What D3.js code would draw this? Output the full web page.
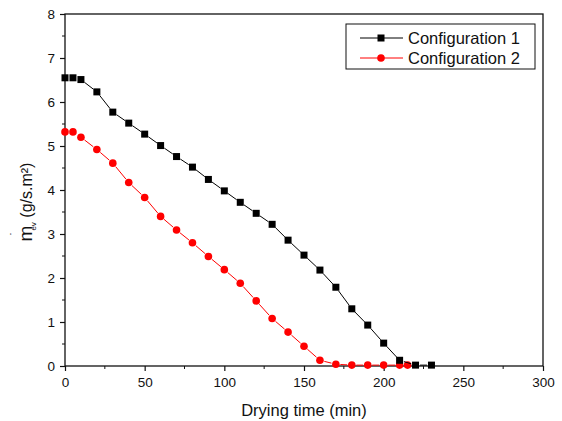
<!DOCTYPE html>
<html>
<head>
<meta charset="utf-8">
<script src="https://cdn.jsdelivr.net/npm/d3@7"></script>
<style>
  body { margin: 0; background: #fff; }
  text { font-family: "Liberation Sans", Arial, sans-serif; fill: #111; }
</style>
</head>
<body>
<script>
const time1 = [0, 5, 10, 20, 30, 40, 50, 60, 70, 80, 90, 100, 110, 120, 130, 140, 150, 160, 170, 180, 190, 200, 210, 220, 230];
const config1 = [6.55, 6.55, 6.51, 6.23, 5.77, 5.52, 5.27, 5.01, 4.76, 4.52, 4.24, 3.98, 3.72, 3.47, 3.22, 2.86, 2.52, 2.18, 1.79, 1.30, 0.93, 0.52, 0.13, 0.02, 0.02];
const time2 = [0, 5, 10, 20, 30, 40, 50, 60, 70, 80, 90, 100, 110, 120, 130, 140, 150, 160, 170, 180, 190, 200, 210, 215];
const config2 = [5.32, 5.32, 5.20, 4.92, 4.61, 4.17, 3.83, 3.40, 3.09, 2.80, 2.49, 2.19, 1.88, 1.48, 1.08, 0.77, 0.45, 0.13, 0.04, 0.02, 0.02, 0.02, 0.02, 0.02];
const xTicks = [0, 50, 100, 150, 200, 250, 300];
const yTicks = [0, 1, 2, 3, 4, 5, 6, 7, 8];
const seriesNames = ["Configuration 1", "Configuration 2"];

const width = 562, height = 421;
const margin = {left: 65, right: 19, top: 14, bottom: 55};

const svg = d3.select("body").append("svg")
    .attr("width", width)
    .attr("height", height);

const x = d3.scaleLinear().domain([0, 300]).range([margin.left, width - margin.right]);
const y = d3.scaleLinear().domain([0, 8]).range([height - margin.bottom, margin.top]);

// frame
svg.append("rect")
    .attr("x", x(0)).attr("y", y(8))
    .attr("width", x(300) - x(0)).attr("height", y(0) - y(8))
    .attr("fill", "none").attr("stroke", "#111").attr("stroke-width", 1.3);

// minor ticks
svg.append("g").selectAll("line")
    .data(d3.range(25, 300, 50))
    .join("line")
    .attr("x1", d => x(d)).attr("x2", d => x(d))
    .attr("y1", y(0)).attr("y2", y(0) + 3)
    .attr("stroke", "#111");
svg.append("g").selectAll("line")
    .data(d3.range(0.5, 8, 1))
    .join("line")
    .attr("y1", d => y(d)).attr("y2", d => y(d))
    .attr("x1", x(0)).attr("x2", x(0) - 3)
    .attr("stroke", "#111");

const xAxis = svg.append("g")
    .attr("transform", "translate(0," + y(0) + ")")
    .call(d3.axisBottom(x).tickValues(xTicks).tickSize(5).tickSizeOuter(0).tickPadding(6));
const yAxis = svg.append("g")
    .attr("transform", "translate(" + x(0) + ",0)")
    .call(d3.axisLeft(y).tickValues(yTicks).tickSize(5).tickSizeOuter(0).tickPadding(5));

[xAxis, yAxis].forEach(a => {
    a.select(".domain").remove();
    a.selectAll(".tick line").attr("stroke", "#111").attr("stroke-width", 1.2);
    a.selectAll(".tick text").attr("font-size", 13.5).attr("fill", "#111")
        .style("font-family", "'Liberation Sans', Arial, sans-serif");
});

// axis titles
svg.append("text")
    .attr("x", (x(0) + x(300)) / 2)
    .attr("y", 416)
    .attr("text-anchor", "middle")
    .attr("font-size", 16.5)
    .text("Drying time (min)");

const yt = svg.append("text")
    .attr("transform", "translate(32,202) rotate(-90)")
    .attr("text-anchor", "middle")
    .attr("font-size", 16);
yt.append("tspan").attr("font-size", 19).text("m");
yt.append("tspan").attr("dy", -13).attr("dx", -10).attr("font-size", 12).text("˙");
yt.append("tspan").attr("dy", 17).attr("dx", 1).attr("font-size", 8).text("ev");
yt.append("tspan").attr("dy", -4).text(" (g/s.m²)");

// series lines with gaps around symbols (Origin style)
function drawSeries(times, vals, color, symbol) {
    const pts = times.map((t, i) => [x(t), y(vals[i])]);
    const segs = [];
    const gap = 4.5;
    for (let i = 0; i < pts.length - 1; i++) {
        const [x1, y1] = pts[i], [x2, y2] = pts[i + 1];
        const len = Math.hypot(x2 - x1, y2 - y1);
        if (len > 2 * gap + 1) {
            const ux = (x2 - x1) / len, uy = (y2 - y1) / len;
            segs.push([x1 + ux * gap, y1 + uy * gap, x2 - ux * gap, y2 - uy * gap]);
        }
    }
    svg.append("g").selectAll("line")
        .data(segs)
        .join("line")
        .attr("x1", d => d[0]).attr("y1", d => d[1])
        .attr("x2", d => d[2]).attr("y2", d => d[3])
        .attr("stroke", color).attr("stroke-width", 1);
    const g = svg.append("g");
    if (symbol === "square") {
        g.selectAll("rect").data(pts).join("rect")
            .attr("x", d => d[0] - 3.5).attr("y", d => d[1] - 3.5)
            .attr("width", 7).attr("height", 7)
            .attr("fill", color);
    } else {
        g.selectAll("circle").data(pts).join("circle")
            .attr("cx", d => d[0]).attr("cy", d => d[1])
            .attr("r", 3.8)
            .attr("fill", color);
    }
}

drawSeries(time2, config2, "#ff0000", "circle");
drawSeries(time1, config1, "#000000", "square");

// legend
const leg = svg.append("g");
leg.append("rect")
    .attr("x", 346).attr("y", 24)
    .attr("width", 189).attr("height", 45)
    .attr("fill", "#fff").attr("stroke", "#111").attr("stroke-width", 1);
const legColors = ["#000000", "#ff0000"];
seriesNames.forEach((name, i) => {
    const ly = 38 + i * 20;
    leg.append("line")
        .attr("x1", 360).attr("x2", 403)
        .attr("y1", ly).attr("y2", ly)
        .attr("stroke", legColors[i]).attr("stroke-width", 1);
    if (i === 0) {
        leg.append("rect").attr("x", 377.5).attr("y", ly - 3.5)
            .attr("width", 7).attr("height", 7).attr("fill", legColors[i]);
    } else {
        leg.append("circle").attr("cx", 381).attr("cy", ly).attr("r", 3.8)
            .attr("fill", legColors[i]);
    }
    leg.append("text")
        .attr("x", 408).attr("y", ly + 6)
        .attr("font-size", 16.5)
        .text(name);
});
</script>
</body>
</html>
